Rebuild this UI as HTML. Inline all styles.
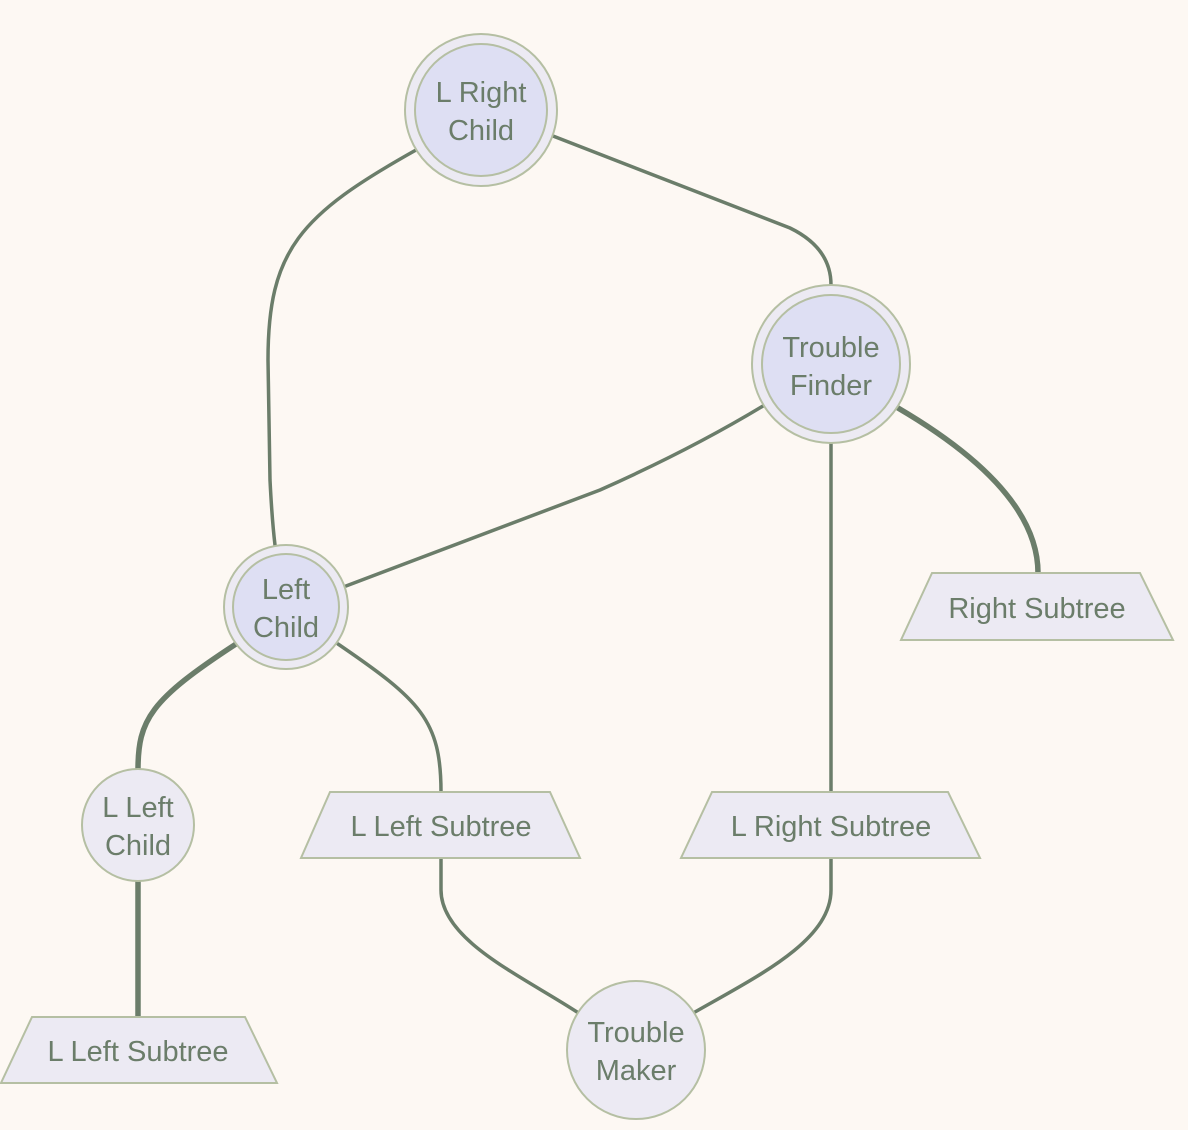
<!DOCTYPE html>
<html><head><meta charset="utf-8"><style>
html,body{margin:0;padding:0;background:#FDF8F3;}
svg{display:block}
text{font-family:"Liberation Sans",sans-serif;font-size:29px;fill:#6B7D6A;text-anchor:middle;}
</style></head><body>
<svg width="1188" height="1130" viewBox="0 0 1188 1130">
<rect width="1188" height="1130" fill="#FDF8F3"/>
<g fill="none" stroke="#6B7D6A" stroke-width="3.5" stroke-linecap="round">
<path d="M416,150 C300,215 268,250 268,360 L270,480 Q272,520 275,545"/>
<path d="M553,136 L790,228 Q831,248 831,285"/>
<path d="M763,406 Q690,450 600,490 L346,586"/>
<path d="M831,444 L831,792"/>
<path d="M898,408 Q1038,490 1038,573" stroke-width="5.5"/>
<path d="M236,644 C150,700 138,720 138,770" stroke-width="5.5"/>
<path d="M338,644 C420,700 441,720 441,792"/>
<path d="M138,881 L138,1017" stroke-width="5.5"/>
<path d="M441,858 L441,890 C441,940 520,975 577,1012"/>
<path d="M831,858 L831,890 C831,940 760,975 695,1012"/>
</g>
<g stroke="#B5BFA3" stroke-width="2">
<circle cx="481" cy="110" r="76" fill="#ECEAF3"/>
<circle cx="481" cy="110" r="66" fill="#DEDFF3"/>
<circle cx="831" cy="364" r="79" fill="#ECEAF3"/>
<circle cx="831" cy="364" r="69" fill="#DEDFF3"/>
<circle cx="286" cy="607" r="62" fill="#ECEAF3"/>
<circle cx="286" cy="607" r="53" fill="#DEDFF3"/>
<circle cx="138" cy="825" r="56" fill="#ECEAF3"/>
<circle cx="636" cy="1050" r="69" fill="#ECEAF3"/>
<polygon points="932,573 1140,573 1173,640 901,640" fill="#ECEAF3"/>
<polygon points="330,792 550,792 580,858 301,858" fill="#ECEAF3"/>
<polygon points="712,792 948,792 980,858 681,858" fill="#ECEAF3"/>
<polygon points="32,1017 245,1017 277,1083 1,1083" fill="#ECEAF3"/>
</g>
<text x="481" y="102">L Right</text><text x="481" y="140">Child</text>
<text x="831" y="357">Trouble</text><text x="831" y="395">Finder</text>
<text x="286" y="599">Left</text><text x="286" y="637">Child</text>
<text x="138" y="817">L Left</text><text x="138" y="855">Child</text>
<text x="636" y="1042">Trouble</text><text x="636" y="1080">Maker</text>
<text x="1037" y="618">Right Subtree</text>
<text x="441" y="836">L Left Subtree</text>
<text x="831" y="836">L Right Subtree</text>
<text x="138" y="1061">L Left Subtree</text>
</svg>
</body></html>
